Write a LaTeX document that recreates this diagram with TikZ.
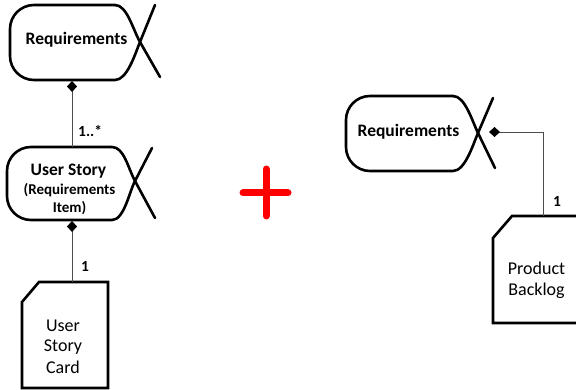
\documentclass[tikz,border=0pt]{standalone}
\usepackage{fontspec}
\setmainfont{Carlito}
\usetikzlibrary{arrows.meta,calc}
\newcommand\bizobj[8]{%
  \draw[shapeline] (#4,#2) -- ({#1+24},#2)
    arc[start angle=90,end angle=180,radius=24pt] -- (#1,{#3-24})
    arc[start angle=180,end angle=270,radius=24pt] -- (#4,#3)
    .. controls +(12,0) and ($(#5,#6)!-0.35!(#7)$) .. (#5,#6) -- (#7);
  \draw[shapeline] (#4,#2)
    .. controls +(12,0) and ($(#5,#6)!-0.35!(#8)$) .. (#5,#6) -- (#8);
}
\begin{document}
\begin{tikzpicture}[x=1pt,y=-1pt,
  shapeline/.style={line width=2.6pt, line join=round, line cap=round},
  cardline/.style={line width=2.6pt, line join=miter},
  conn/.style={draw=black!70, line width=0.9pt},
  dia/.style={-, {Diamond[length=11pt,width=10pt,fill=black,color=black]}-},
  ttl/.style={font=\fontsize{17.5}{21}\selectfont\bfseries, anchor=base, inner sep=0pt},
  sub/.style={font=\fontsize{15}{18}\selectfont\bfseries, anchor=base, inner sep=0pt},
  txt/.style={font=\fontsize{18}{21}\selectfont, anchor=base, inner sep=0pt},
  lbl/.style={font=\fontsize{15.5}{18}\selectfont\bfseries, anchor=base west, inner sep=0pt},
  plus/.style={draw=red, line width=7pt, line cap=round}
]
\useasboundingbox (0,0) rectangle (576,390);
\clip (0,0) rectangle (576,390);

% shapes
\bizobj{10}{5}{80}{115}{140}{42}{155,5}{160,77}
\bizobj{7}{147}{220}{112}{135}{181}{152,148}{155,218}
\bizobj{346}{96}{171}{453}{478}{133}{493,98}{495,168}

\draw[cardline] (22,302) -- (39,282) -- (108,282) -- (108,388) -- (22,388) -- cycle;
\draw[cardline] (585,216) -- (512,216) -- (493,238) -- (493,323) -- (585,323);

% texts
\node[ttl] (req1) at (76.5,45) {Requirements};
\node[ttl] (us) at (68.5,176) {User Story};
\node[sub] (us2) at (69.5,194.5) {(Requirements};
\node[sub] (us3) at (69.5,212.5) {Item)};
\node[ttl] (req2) at (408.5,137) {Requirements};

\node[txt] (card1) at (63,331) {User};
\node[txt] (card2) at (63,352) {Story};
\node[txt] (card3) at (63,373) {Card};
\node[txt] (pb1) at (536.5,275) {Product};
\node[txt] (pb2) at (536.5,296) {Backlog};

% attachment points
\coordinate (req1s) at (72,81);
\coordinate (usn) at (72,147);
\coordinate (uss) at (72,221);
\coordinate (cardn) at (72,282);
\coordinate (req2e) at (489,132);
\coordinate (bend) at (543,132);
\coordinate (pbn) at (543,216);

\draw[conn,dia] (req1s) -- (usn);
\draw[conn,dia] (uss) -- (cardn);
\draw[conn,dia] (req2e) -- (bend) -- (pbn);

\node[lbl] (l1) at (78,137) {1..*};
\node[lbl] (l2) at (81,272) {1};
\node[lbl] (l3) at (553,207) {1};

% plus
\coordinate (ph1) at (243,193);
\coordinate (ph2) at (288,193);
\coordinate (pv1) at (266,169);
\coordinate (pv2) at (266,216);
\draw[plus] (ph1) -- (ph2);
\draw[plus] (pv1) -- (pv2);
\end{tikzpicture}
\end{document}
